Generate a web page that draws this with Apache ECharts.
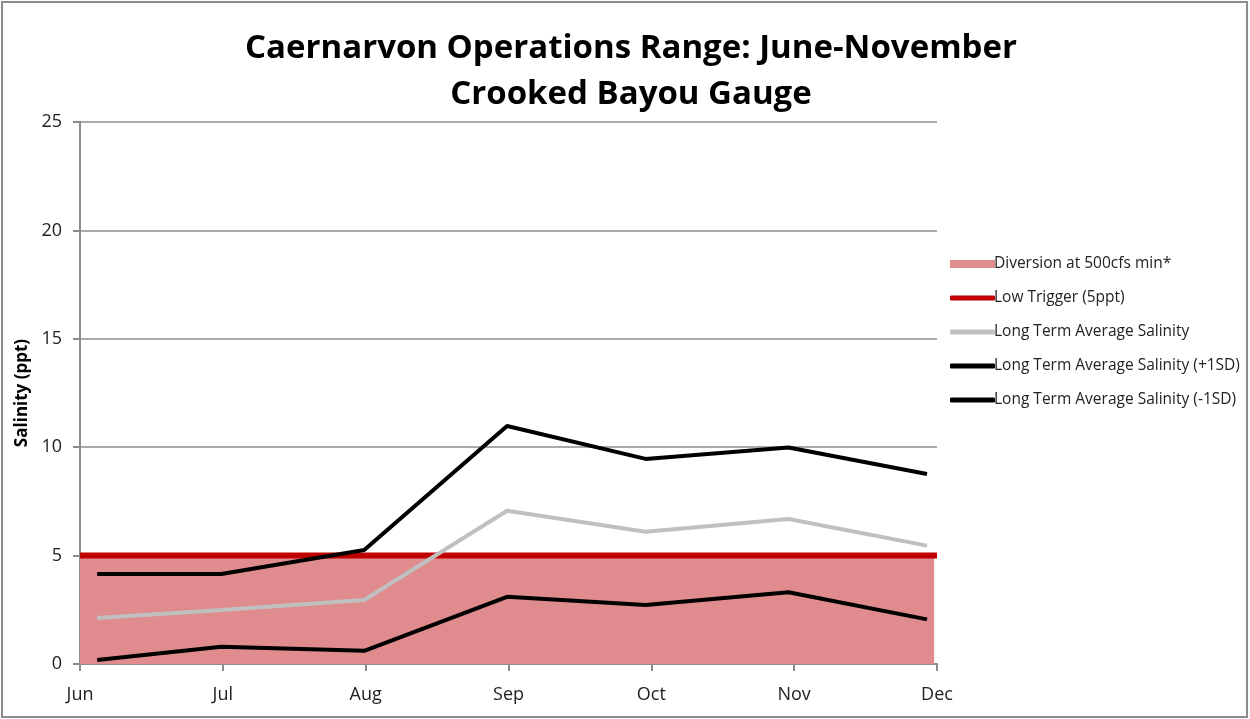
<!DOCTYPE html>
<html>
<head>
<meta charset="utf-8">
<script src="https://cdn.jsdelivr.net/npm/echarts@6/dist/echarts.min.js"></script>
<style>
html,body{margin:0;padding:0;background:#fff;}
#chart{width:1250px;height:719px;}
</style>
</head>
<body>
<div id="chart"></div>
<script>
var months = ['Jun', 'Jul', 'Aug', 'Sep', 'Oct', 'Nov', 'Dec'];
var yTicks = [0, 5, 10, 15, 20, 25];
// x positions of data points (month index, points sit slightly off the ticks as in the source)
var pointX = [0.12, 0.99, 1.99, 2.99, 3.96, 4.96, 5.93];
var avgSalinity = [2.12, 2.49, 2.95, 7.07, 6.10, 6.69, 5.46];
var plus1SD = [4.15, 4.15, 5.26, 10.98, 9.46, 9.99, 8.76];
var minus1SD = [0.18, 0.80, 0.61, 3.10, 2.72, 3.31, 2.06];
var diversionX = [0, 5.98];
var diversionY = [5, 5];
var triggerX = [0, 6];
var triggerY = [5, 5];

function pairs(xs, ys) { return xs.map(function (x, i) { return [x, ys[i]]; }); }

var chart = echarts.init(document.getElementById('chart'));
var font = 'Open Sans, Lato, sans-serif';
var legendText = { fontFamily: font, fontSize: 15.5, color: '#222', padding: [0, 0, 0, -6] };
chart.setOption({
  animation: false,
  backgroundColor: '#fff',
  title: {
    text: 'Caernarvon Operations Range: June-November\nCrooked Bayou Gauge',
    left: 626, top: 21, textAlign: 'center',
    textStyle: { fontFamily: font, fontWeight: 'bold', fontSize: 33, lineHeight: 46, color: '#000' }
  },
  grid: { left: 80, right: 313, top: 122, bottom: 55, containLabel: false },
  legend: [
    { orient: 'vertical', left: 945, top: 251, itemWidth: 45, itemHeight: 8,
      textStyle: legendText, data: [{ name: 'Diversion at 500cfs min*', icon: 'rect' }] },
    { orient: 'vertical', left: 945, top: 285, itemGap: 18, itemWidth: 45, itemHeight: 5,
      textStyle: legendText, icon: 'roundRect',
      data: ['Low Trigger (5ppt)', 'Long Term Average Salinity',
             'Long Term Average Salinity (+1SD)', 'Long Term Average Salinity (-1SD)'] }
  ],
  xAxis: {
    type: 'value', min: 0, max: 6, interval: 1,
    axisLine: { show: true, lineStyle: { color: '#8c8c8c', width: 2 } },
    axisTick: { show: true, length: 7, lineStyle: { color: '#8c8c8c', width: 2 } },
    splitLine: { show: false },
    axisLabel: { margin: 22, fontFamily: font, fontSize: 18, color: '#222',
      formatter: function (v) { return months[Math.round(v)] || ''; } }
  },
  yAxis: {
    type: 'value', min: 0, max: 25, interval: 5,
    name: 'Salinity (ppt)', nameLocation: 'middle', nameGap: 48,
    nameTextStyle: { fontFamily: font, fontWeight: 'bold', fontSize: 17, color: '#000' },
    axisLine: { show: true, lineStyle: { color: '#8c8c8c', width: 2 } },
    axisTick: { show: true, inside: false, length: 7, lineStyle: { color: '#8c8c8c', width: 2 } },
    splitLine: { show: true, lineStyle: { color: '#8c8c8c', width: 1.5 } },
    axisLabel: { margin: 18, fontFamily: font, fontSize: 18, color: '#222',
      formatter: function (v) { return yTicks.indexOf(v) >= 0 ? String(v) : ''; } }
  },
  series: [
    { name: 'Diversion at 500cfs min*', type: 'line', symbol: 'none', data: pairs(diversionX, diversionY),
      lineStyle: { width: 0, color: '#E08B8D' }, itemStyle: { color: '#E08B8D' },
      areaStyle: { color: '#E08B8D', opacity: 1 }, z: 1 },
    { name: 'Low Trigger (5ppt)', type: 'line', symbol: 'none', data: pairs(triggerX, triggerY),
      lineStyle: { width: 6, color: '#C00000' }, itemStyle: { color: '#C00000' }, z: 2 },
    { name: 'Long Term Average Salinity', type: 'line', symbol: 'none', data: pairs(pointX, avgSalinity),
      lineStyle: { width: 4, color: '#C0C0C0' }, itemStyle: { color: '#C0C0C0' }, z: 3 },
    { name: 'Long Term Average Salinity (+1SD)', type: 'line', symbol: 'none', data: pairs(pointX, plus1SD),
      lineStyle: { width: 4, color: '#000' }, itemStyle: { color: '#000' }, z: 4 },
    { name: 'Long Term Average Salinity (-1SD)', type: 'line', symbol: 'none', data: pairs(pointX, minus1SD),
      lineStyle: { width: 4, color: '#000' }, itemStyle: { color: '#000' }, z: 4 }
  ],
  graphic: [
    { type: 'rect', shape: { x: 2, y: 2, width: 1245, height: 715 }, silent: true, z: 100,
      style: { fill: 'none', stroke: '#8c8c8c', lineWidth: 2 } }
  ]
});
</script>
</body>
</html>
